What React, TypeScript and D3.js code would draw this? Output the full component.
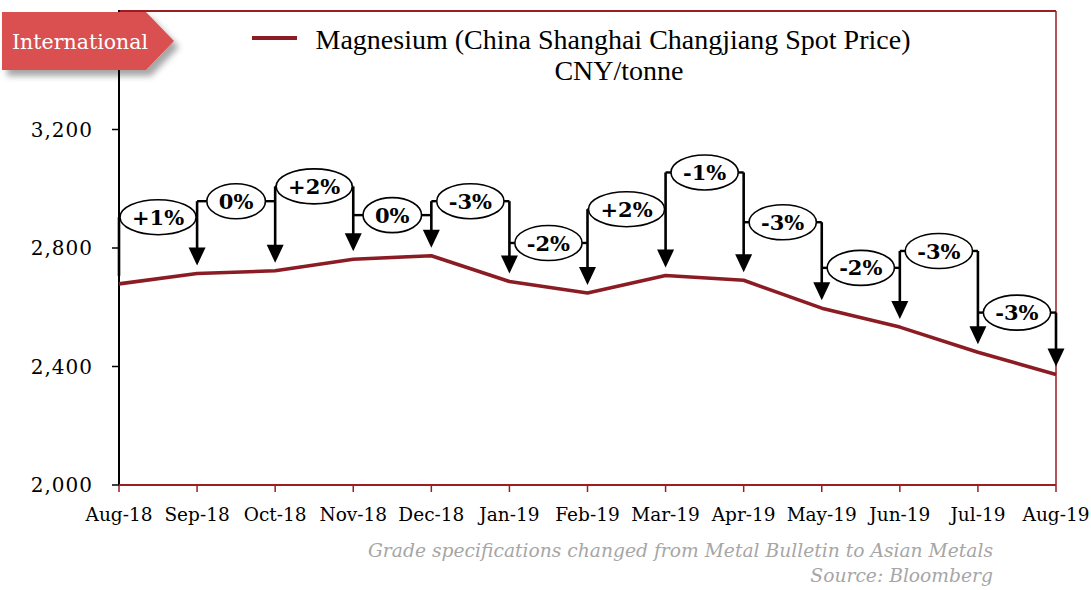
import React from "react";
import * as d3 from "d3";

// Monthly magnesium spot price, CNY/tonne
const months = [
  "Aug-18", "Sep-18", "Oct-18", "Nov-18", "Dec-18", "Jan-19", "Feb-19",
  "Mar-19", "Apr-19", "May-19", "Jun-19", "Jul-19", "Aug-19",
];
const price = [2679, 2714, 2723, 2762, 2774, 2687, 2648, 2707, 2691, 2597, 2533, 2448, 2373];

// Month-on-month change callouts and the price level each callout sits at
const changeLabels = ["+1%", "0%", "+2%", "0%", "-3%", "-2%", "+2%", "-1%", "-3%", "-2%", "-3%", "-3%"];
const calloutLevel = [2904, 2958, 3008, 2911, 2958, 2817, 2931, 3055, 2887, 2733, 2790, 2582];

const yTicks = [2000, 2400, 2800, 3200];

const W = 1091;
const H = 590;
const left = 119;
const right = 1056;
const top = 11;
const bottom = 485;

const RED = "#8c1c24";
const FRAME = "#9a1e22";

const labelFont = 21;
const labelFontSpec = `bold ${labelFont}px "DejaVu Serif"`;

let measureCtx: CanvasRenderingContext2D | null = null;
function textWidth(s: string) {
  if (!measureCtx && typeof document !== "undefined") {
    measureCtx = document.createElement("canvas").getContext("2d");
  }
  if (measureCtx) {
    measureCtx.font = labelFontSpec;
    return measureCtx.measureText(s).width;
  }
  return s.length * labelFont * 0.8;
}

export default function App() {
  const x = d3.scalePoint<string>().domain(months).range([left, right]);
  const y = d3.scaleLinear().domain([2000, 3200]).range([bottom, 129.5]);

  const line = d3
    .line<number>()
    .x((_, i) => x(months[i]) as number)
    .y((d) => y(d));

  const levelY = calloutLevel.map((v) => y(v));

  const arrows: React.ReactNode[] = [];
  // leading bracket on the first month (no arrowhead)
  const x0 = x(months[0]) as number;
  arrows.push(
    <line key="lead" x1={x0} x2={x0} y1={levelY[0]} y2={y(price[0]) - 8} stroke="#000" strokeWidth={2.6} />
  );
  for (let i = 1; i < months.length; i++) {
    const xi = x(months[i]) as number;
    const tip = y(price[i]) - 8;
    const topY = i < months.length - 1 ? Math.min(levelY[i - 1], levelY[i]) : levelY[i - 1];
    const headH = 18;
    const headW = 8.5;
    arrows.push(
      <g key={"a" + i}>
        <line x1={xi} x2={xi} y1={topY} y2={tip - headH + 2} stroke="#000" strokeWidth={2.6} />
        <path d={`M${xi - headW},${tip - headH} L${xi + headW},${tip - headH} L${xi},${tip} Z`} fill="#000" />
      </g>
    );
  }

  const callouts = changeLabels.map((lab, i) => {
    const xa = x(months[i]) as number;
    const xb = x(months[i + 1]) as number;
    const cx = (xa + xb) / 2;
    const cy = levelY[i];
    const rx = Math.min(textWidth(lab) / 2 + 12, (xb - xa) / 2 - 1);
    const ry = 17.5;
    return (
      <g key={"c" + i}>
        <line x1={xa} x2={cx - rx} y1={cy} y2={cy} stroke="#000" strokeWidth={2.4} />
        <line x1={cx + rx} x2={xb} y1={cy} y2={cy} stroke="#000" strokeWidth={2.4} />
        <ellipse cx={cx} cy={cy} rx={rx} ry={ry} fill="#fff" stroke="#000" strokeWidth={1.6} />
        <text
          x={cx}
          y={cy}
          dy="0.36em"
          textAnchor="middle"
          fontFamily="DejaVu Serif"
          fontWeight="bold"
          fontSize={labelFont}
          fill="#000"
        >
          {lab}
        </text>
      </g>
    );
  });

  return (
    <svg width={W} height={H} style={{ position: "absolute", left: 0, top: 0, background: "#fff" }}>
      <defs>
        <filter id="tagShadow" x="-20%" y="-30%" width="150%" height="180%">
          <feDropShadow dx="5" dy="6" stdDeviation="3" floodColor="#000" floodOpacity="0.35" />
        </filter>
      </defs>

      {/* frame */}
      <line x1={left} x2={right} y1={top} y2={top} stroke={FRAME} strokeWidth={2} />
      <line x1={right} x2={right} y1={top} y2={bottom} stroke={FRAME} strokeWidth={1.5} />

      {/* y axis */}
      <line x1={left} x2={left} y1={top - 1} y2={bottom + 1} stroke="#000" strokeWidth={2} />
      {yTicks.map((t) => (
        <g key={t}>
          <line x1={left - 7} x2={left} y1={y(t)} y2={y(t)} stroke="#000" strokeWidth={1.5} />
          <text
            x={93}
            y={y(t)}
            dy="0.35em"
            textAnchor="end"
            fontFamily="DejaVu Serif"
            fontSize={20}
            letterSpacing={1}
            fill="#000"
          >
            {d3.format(",")(t)}
          </text>
        </g>
      ))}

      {/* x axis */}
      <line x1={left} x2={right} y1={bottom} y2={bottom} stroke={FRAME} strokeWidth={2} />
      {months.map((m) => (
        <g key={m}>
          <line x1={x(m)} x2={x(m)} y1={bottom} y2={bottom + 7} stroke={FRAME} strokeWidth={1.5} />
          <text
            x={x(m)}
            y={521}
            textAnchor="middle"
            fontFamily="DejaVu Serif"
            fontSize={18.5}
            fill="#000"
          >
            {m}
          </text>
        </g>
      ))}

      {/* price line */}
      <path d={line(price) as string} fill="none" stroke={RED} strokeWidth={3.6} strokeLinejoin="round" />

      {arrows}
      {callouts}

      {/* legend */}
      <line x1={252} x2={297} y1={38} y2={38} stroke={RED} strokeWidth={4} />
      <text x={613} y={49} textAnchor="middle" fontFamily="Liberation Serif" fontSize={28} fill="#000">
        Magnesium (China Shanghai Changjiang Spot Price)
      </text>
      <text x={619} y={80} textAnchor="middle" fontFamily="Liberation Serif" fontSize={28} fill="#000">
        CNY/tonne
      </text>

      {/* section tag */}
      <g filter="url(#tagShadow)">
        <path d="M2,12 L146,12 L174,41 L146,70 L2,70 Z" fill="#da4f4f" />
      </g>
      <text x={12} y={49} fontFamily="DejaVu Serif" fontSize={20.5} fill="#fff">
        International
      </text>

      {/* notes */}
      <text x={993} y={557} textAnchor="end" fontFamily="DejaVu Serif" fontStyle="italic" fontSize={18.7} fill="#a6a6a6">
        Grade specifications changed from Metal Bulletin to Asian Metals
      </text>
      <text x={993} y={582} textAnchor="end" fontFamily="DejaVu Serif" fontStyle="italic" fontSize={18.7} fill="#a6a6a6">
        Source: Bloomberg
      </text>
    </svg>
  );
}
